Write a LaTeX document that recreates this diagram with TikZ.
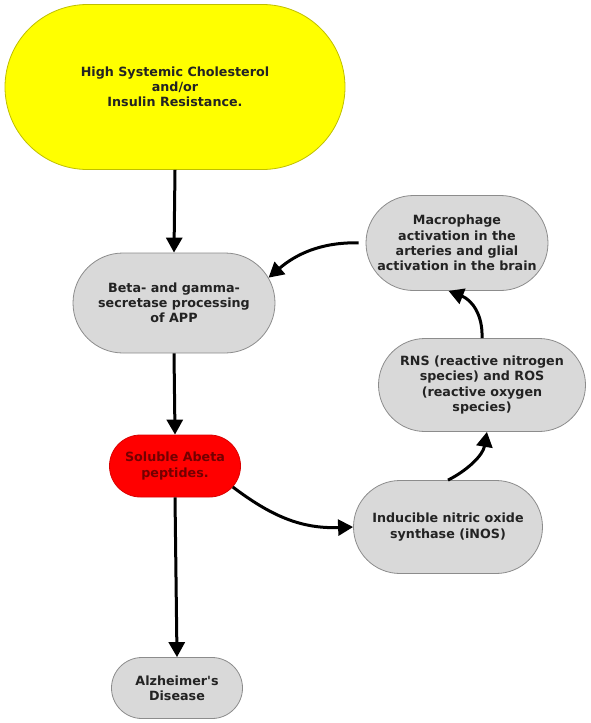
\documentclass[tikz,border=0pt]{standalone}
\usepackage{fontspec}
\setmainfont{DejaVu Sans}
\usetikzlibrary{arrows.meta,shapes.misc}
\definecolor{boxgray}{RGB}{217,217,217}
\definecolor{edgegray}{RGB}{140,140,140}
\definecolor{riskyellow}{RGB}{255,255,0}
\definecolor{peptidered}{RGB}{255,0,0}
\definecolor{textdark}{RGB}{35,35,35}

\begin{document}
\begin{tikzpicture}[x=1pt,y=-1pt,>={Triangle[length=15pt,width=16pt]},
  stage/.style={rounded rectangle,draw=edgegray,fill=boxgray,line width=0.8pt,
    text=textdark,align=center,inner sep=0pt,
    font=\fontsize{12.7}{15.2}\selectfont\bfseries},
  link/.style={->,line width=3pt}]
\useasboundingbox (0,0) rectangle (590,723);
% main column
\node[stage,fill=riskyellow,draw=riskyellow!75!black,minimum width=340pt,minimum height=165pt]
  (risk) at (175,87) {High Systemic Cholesterol\\and/or\\Insulin Resistance.};
\node[stage,minimum width=202pt,minimum height=100pt] (beta) at (174,303)
  {Beta- and gamma-\\secretase processing\\of APP};
\node[stage,fill=peptidered,draw=peptidered!85!black,text=peptidered!45!black,
  minimum width=131pt,minimum height=62pt] (abeta) at (175,466) {Soluble Abeta\\peptides.};
\node[stage,minimum width=131pt,minimum height=61pt] (alz) at (177,688)
  {Alzheimer\textquotesingle s\\Disease};
% feedback loop
\node[stage,minimum width=189pt,minimum height=93pt] (inos) at (448,527)
  {Inducible nitric oxide\\synthase (iNOS)};
\node[stage,minimum width=207pt,minimum height=93pt] (rns) at (482,385)
  {RNS (reactive nitrogen\\species) and ROS\\(reactive oxygen\\species)};
\node[stage,minimum width=182pt,minimum height=95pt] (macro) at (457,243)
  {Macrophage\\activation in the\\arteries and glial\\activation in the brain};

\draw[link] (risk.south) -- (beta.north);
\draw[link] (beta.south) -- (abeta.north);
\draw[link] (abeta.south) -- (alz.north);
\draw[link] (abeta.-20) .. controls (270,515) and (300,529) .. (inos.west);
\draw[link] (inos.north) .. controls (468,470) and (483,455) .. (rns.-84);
\draw[link] (rns.north) .. controls (483,315) and (472,300) .. (macro.-100);
\draw[link,shorten <=7pt] (macro.west) .. controls (320,242) and (295,255) .. (beta.15);
\end{tikzpicture}
\end{document}
